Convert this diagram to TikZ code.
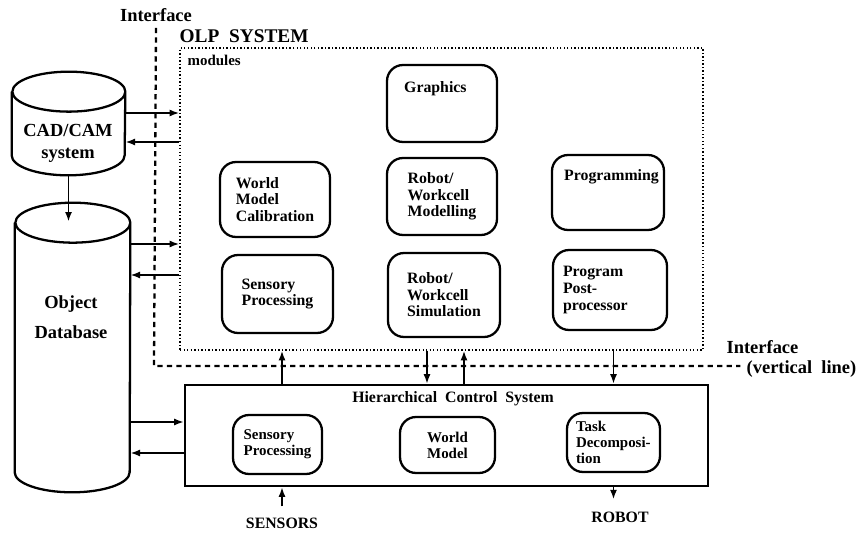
\documentclass[tikz,border=0pt]{standalone}
\usepackage{fontspec}
\setmainfont{Liberation Serif}
\usetikzlibrary{arrows.meta,calc,positioning}

\tikzset{
  modbox/.style={draw, rounded corners=0.32cm, line width=1.3pt, align=left,
    font=\fontsize{9}{9.4}\selectfont\bfseries},
  modtxt/.style={inner sep=0, font=\fontsize{9}{9.4}\selectfont\bfseries},
  hcsbox/.style={modbox, font=\fontsize{8.5}{9}\selectfont\bfseries},
  drum/.style={inner sep=0},
  drumline/.style={line width=1.3pt},
  arr/.style={line width=1.1pt, -{Latex[length=5.5pt,width=4pt]}},
  iface/.style={line width=1.3pt, dash pattern=on 3pt off 2.4pt},
  lbl/.style={font=\fontsize{10.5}{12}\selectfont\bfseries},
  small/.style={font=\fontsize{9}{10}\selectfont\bfseries}
}

\begin{document}
\begin{tikzpicture}[x=0.02cm, y=-0.02cm]
\useasboundingbox (0,0) rectangle (863,534);

% OLP system and its modules
\node[draw, line width=0.8pt, dash pattern=on 0.8pt off 1.2pt,
  minimum width=10.46cm, minimum height=6.04cm] (olp) at (441.5,199) {};
\node[font=\fontsize{11}{13}\selectfont\bfseries, anchor=south west, inner sep=0]
  (olptitle) at ([shift={(0,-4)}]olp.north west) {OLP\hspace{0.5em}SYSTEM};
\node[font=\fontsize{8.5}{10}\selectfont\bfseries, anchor=base west, inner sep=0]
  (modlbl) at ([shift={(8,18)}]olp.north west) {modules};

\node[modbox, minimum width=2.2cm, minimum height=1.54cm] (graph) at (442,103.5) {};
\node[modtxt, anchor=base west] (graphtxt) at ([shift={(18,29)}]graph.north west) {Graphics};
\node[modbox, minimum width=2.24cm, minimum height=1.5cm] (prog) at (608,192.5) {};
\node[modtxt, anchor=base west] (progtxt) at ([shift={(13,27)}]prog.north west) {Programming};

\node[modbox, minimum width=2.2cm, minimum height=1.5cm] (wmc) at (275,199.5) {World\\Model\\Calibration};
\node[modbox, minimum width=2.2cm, minimum height=1.54cm] (rwm) at (442,196.5) {Robot/\\Workcell\\Modelling};
\node[modbox, minimum width=2.22cm, minimum height=1.56cm] (osp) at (277.5,294) {Sensory\\Processing};
\node[modbox, minimum width=2.24cm, minimum height=1.68cm] (rws) at (444,295) {Robot/\\Workcell\\Simulation};
\node[modbox, minimum width=2.28cm, minimum height=1.6cm, text width=1.88cm, inner xsep=0.2cm]
  (ppp) at (610,290) {Program\\Post-\\processor};

% Hierarchical control system
\node[draw, line width=1.3pt, minimum width=10.46cm, minimum height=2.02cm] (hcs) at (446.5,435.5) {};
\node[small] (hcstitle) at ([shift={(6.5,15)}]hcs.north) {Hierarchical\ \ Control\ \ System};
\node[hcsbox, minimum width=1.78cm, minimum height=1.18cm] (hsp) at (277.5,444.5) {Sensory\\Processing};
\node[hcsbox, minimum width=1.9cm, minimum height=1.12cm] (hwm) at (447.5,445) {World\\Model};
\node[hcsbox, minimum width=1.86cm, minimum height=1.18cm, text width=1.5cm, inner xsep=0.18cm]
  (htd) at (613.5,442.5) {Task\\Decomposi-\\tion};

\node[small] (sensors) at (282,523) {SENSORS};
\node[small] (robot) at (620,517) {ROBOT};

% databases (drums drawn round their nodes)
\node[drum, minimum width=2.26cm, minimum height=2.06cm] (cad) at (68.5,123.5) {};
\draw[drumline] ([yshift=-0.4cm]cad.north west) -- ([yshift=0.4cm]cad.south west)
  arc[start angle=180, end angle=360, x radius=1.13cm, y radius=0.4cm]
  -- ([yshift=-0.4cm]cad.north east)
  arc[start angle=0, end angle=360, x radius=1.13cm, y radius=0.4cm];
\node[lbl, align=center] (cadtxt) at (68,143) {CAD/CAM\\[0.5pt]system};

\node[drum, minimum width=2.3cm, minimum height=5.78cm] (objdb) at (72.5,347.5) {};
\draw[drumline] ([yshift=-0.4cm]objdb.north west) -- ([yshift=0.4cm]objdb.south west)
  arc[start angle=180, end angle=360, x radius=1.15cm, y radius=0.4cm]
  -- ([yshift=-0.4cm]objdb.north east)
  arc[start angle=0, end angle=360, x radius=1.15cm, y radius=0.4cm];
\node[lbl, align=center] (objtxt) at (71,317) {Object\\[5pt]Database};

% interface line
\node[lbl] (iftop) at (156,15) {Interface};
\node[lbl] (ifright) at (762.5,347) {Interface};
\node[lbl] (ifnote) at (801.5,369) {(vertical\ \ line)};
\coordinate (ifcorner) at (154,366);
\draw[iface] (iftop.south) -- (ifcorner) -- (ifcorner -| ifnote.west);

% data flow
\draw[arr] ($(cad.east)+(0,-10.5)$) -- ($(cad.east -| olp.west)+(0,-10.5)$);
\draw[arr] ($(cad.east -| olp.west)+(0,18.5)$) -- ($(cad.east)+(0,18.5)$);
\draw[arr] (cad.south) -- ($(cad.south |- objdb.north)+(0,19)$);
\draw[arr] ($(objdb.east)+(0,-103.5)$) -- ($(objdb.east -| olp.west)+(0,-103.5)$);
\draw[arr] ($(objdb.east -| olp.west)+(0,-72.5)$) -- ($(objdb.east)+(0,-72.5)$);
\draw[arr] ($(objdb.east)+(0,74.5)$) -- ($(objdb.east -| hcs.west)+(0,74.5)$);
\draw[arr] ($(objdb.east -| hcs.west)+(0,105.5)$) -- ($(objdb.east)+(0,105.5)$);

\draw[arr] (hcs.north -| sensors) -- (olp.south -| sensors);
\draw[arr] ($(olp.south -| rws)+(-17,0)$) -- ($(hcs.north -| rws)+(-17,0)$);
\draw[arr] ($(hcs.north -| rws)+(20,0)$) -- ($(olp.south -| rws)+(20,0)$);
\draw[arr] (olp.south -| htd) -- (hcs.north -| htd);
\draw[arr] ($(sensors.north)+(0,-5)$) -- (sensors |- hcs.south);
\draw[arr] (hcs.south -| htd) -- ($(robot.north -| htd)+(0,-6)$);
\end{tikzpicture}
\end{document}
